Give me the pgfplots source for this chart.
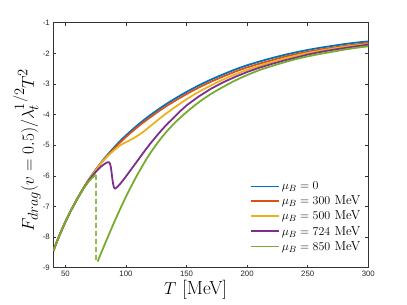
\documentclass[border=0pt]{standalone}
\usepackage{fontspec}
\usepackage{pgfplots}
\pgfplotsset{compat=1.18}
\newfontfamily\tickfont{Liberation Sans}
\definecolor{mblue}{rgb}{0,0.447,0.741}
\definecolor{mred}{rgb}{0.85,0.325,0.098}
\definecolor{myellow}{rgb}{0.929,0.694,0.125}
\definecolor{mpurple}{rgb}{0.494,0.184,0.556}
\definecolor{mgreen}{rgb}{0.466,0.674,0.188}
\begin{document}
\begin{tikzpicture}
\useasboundingbox (-53.3pt,-37.3pt) rectangle (353.7pt,267.7pt);
\begin{axis}[
 scale only axis, width=315pt, height=245pt,
 xmin=40, xmax=300, ymin=-9, ymax=-1,
 xtick={50,100,...,300}, ytick={-9,-8,...,-1},
 tick align=inside, major tick length=3pt,
 axis line style={black!80, line width=0.5pt},
 tick style={black!80, line width=0.5pt},
 /pgf/number format/assume math mode=true,
 ticklabel style={font=\tickfont\fontsize{7.8}{9}\selectfont, text=black!85},
 xlabel={$T$ [MeV]},
 ylabel={$F_{drag}(v=0.5)/\lambda_t^{1/2}T^2$},
 label style={font=\fontsize{19}{22}\selectfont},
 xlabel style={at={(axis description cs:0.452,-0.088)}, anchor=center},
 ylabel style={at={(axis description cs:-0.0835,0.48)}, anchor=center},
 legend style={at={(axis description cs:0.985,0.052)}, anchor=south east, draw=none, fill=white,
   font=\fontsize{13}{15}\selectfont, row sep=0.8pt, inner sep=1pt},
 legend cell align=left,
 legend image code/.code={\draw[#1, line width=1.8pt] (0pt,0pt) -- (28pt,0pt);},
]
\addplot[mblue, line width=1.8pt, smooth] coordinates {
(40,-8.45) (45,-7.95) (50,-7.50) (55,-7.10) (60,-6.73) (65,-6.39) (70,-6.08) (75,-5.80)
(80,-5.54) (85,-5.30) (90,-5.08) (95,-4.87) (100,-4.68) (110,-4.33) (120,-4.02) (130,-3.74)
(140,-3.49) (150,-3.26) (160,-3.05) (170,-2.86) (180,-2.69) (190,-2.53) (200,-2.39) (210,-2.27)
(220,-2.16) (230,-2.06) (240,-1.97) (250,-1.89) (260,-1.82) (270,-1.76) (280,-1.70) (290,-1.65) (300,-1.61)};
\addlegendentry{$\mu_B = 0$}
\addplot[mred, line width=1.8pt, smooth] coordinates {
(40,-8.45) (45,-7.95) (50,-7.50) (55,-7.10) (60,-6.73) (65,-6.395) (70,-6.09) (75,-5.815)
(80,-5.56) (85,-5.33) (90,-5.12) (95,-4.92) (100,-4.73) (110,-4.39) (120,-4.09) (130,-3.81)
(140,-3.56) (150,-3.33) (160,-3.12) (170,-2.93) (180,-2.76) (190,-2.60) (200,-2.46) (210,-2.34)
(220,-2.23) (230,-2.12) (240,-2.03) (250,-1.95) (260,-1.88) (270,-1.82) (280,-1.76) (290,-1.71) (300,-1.66)};
\addlegendentry{$\mu_B = 300$ MeV}
\addplot[myellow, line width=1.8pt, smooth] coordinates {
(40,-8.45) (45,-7.95) (50,-7.50) (55,-7.10) (60,-6.73) (65,-6.395) (70,-6.09) (75,-5.82)
(80,-5.56) (85,-5.35) (90,-5.17) (95,-5.01) (100,-4.90) (105,-4.80) (110,-4.68) (115,-4.54)
(120,-4.38) (130,-4.06) (140,-3.77) (150,-3.50) (160,-3.26) (170,-3.05) (180,-2.86) (190,-2.69)
(200,-2.54) (210,-2.41) (220,-2.29) (230,-2.18) (240,-2.08) (250,-1.99) (260,-1.92) (270,-1.85)
(280,-1.79) (290,-1.74) (300,-1.70)};
\addlegendentry{$\mu_B = 500$ MeV}
\addplot[mpurple, line width=1.8pt] coordinates {
(40,-8.45) (45,-7.95) (50,-7.50) (55,-7.10) (60,-6.74) (65,-6.41) (70,-6.11) (75,-5.87)
(78,-5.75) (80,-5.68) (82,-5.62) (84,-5.57) (85,-5.555) (86,-5.56) (86.8,-5.60) (87.5,-5.72)
(88,-5.86) (88.7,-6.08) (89.3,-6.25) (90,-6.37) (90.7,-6.41) (91.5,-6.41) (93,-6.36) (95,-6.27)
(97.5,-6.15) (100,-6.02) (105,-5.75) (110,-5.48) (115,-5.21) (120,-4.95) (125,-4.71) (130,-4.48)
(135,-4.27) (140,-4.08) (145,-3.88) (150,-3.70) (160,-3.41) (170,-3.16) (180,-2.95) (190,-2.77)
(200,-2.61) (210,-2.47) (220,-2.35) (230,-2.24) (240,-2.14) (250,-2.04) (260,-1.96) (270,-1.89)
(280,-1.83) (290,-1.77) (300,-1.72)};
\addlegendentry{$\mu_B = 724$ MeV}
\addplot[mgreen, line width=1.8pt, smooth] coordinates {
(76.6,-8.80) (80,-8.47) (85,-8.00) (90,-7.54) (95,-7.10) (100,-6.68) (105,-6.29) (110,-5.92)
(115,-5.58) (120,-5.26) (130,-4.72) (140,-4.28) (150,-3.92) (160,-3.60) (170,-3.33) (180,-3.10)
(190,-2.89) (200,-2.71) (210,-2.55) (220,-2.42) (230,-2.30) (240,-2.19) (250,-2.10) (260,-2.02)
(270,-1.95) (280,-1.88) (290,-1.82) (300,-1.77)};
\addlegendentry{$\mu_B = 850$ MeV}
\addplot[mgreen, line width=1.8pt, smooth, forget plot] coordinates {
(40,-8.45) (45,-7.95) (50,-7.50) (55,-7.10) (60,-6.74) (65,-6.42) (70,-6.15) (75,-5.96)};
\addplot[mgreen!80, line width=1.8pt, dash pattern=on 5pt off 3pt, forget plot] coordinates {(75,-5.96) (75,-8.78)};
\end{axis}
\end{tikzpicture}
\end{document}
